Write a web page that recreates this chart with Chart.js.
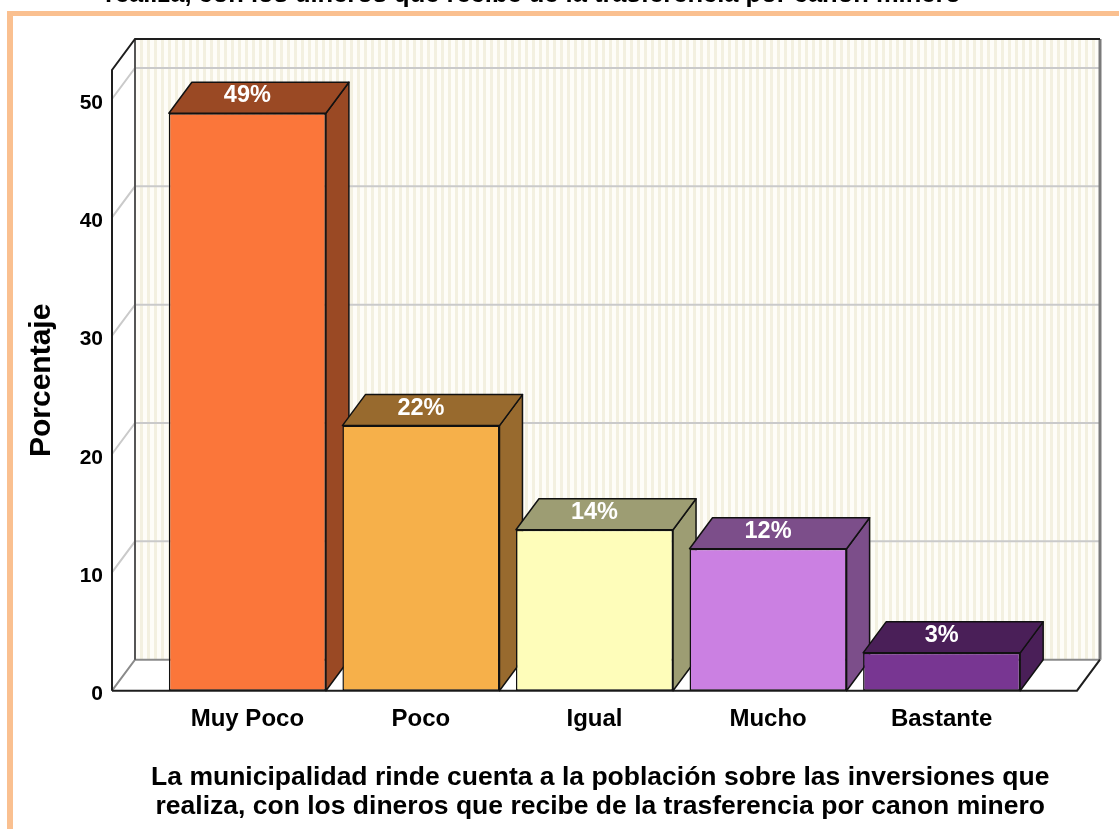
<!DOCTYPE html>
<html>
<head>
<meta charset="utf-8">
<script src="https://cdn.jsdelivr.net/npm/chart.js@4/dist/chart.umd.min.js"></script>
<style>
  html, body { margin: 0; padding: 0; background: #ffffff; }
  #wrap { position: relative; width: 1119px; height: 829px; overflow: hidden; background: #fff; }
  #c { position: absolute; left: 0; top: 0; }
  #frame { position: absolute; left: 7px; top: 11px; width: 1200px; height: 900px;
           border-left: 6px solid #FAC090; border-top: 5px solid #FAC090; pointer-events: none; }
  #cut { position: absolute; left: 105px; top: -20px; font: bold 25.5px "Liberation Sans", Arial, sans-serif;
         line-height: 26px; color: #000; white-space: nowrap; }
</style>
</head>
<body>
<div id="wrap">
  <canvas id="c" width="1119" height="829"></canvas>
  <div id="cut">realiza, con los dineros que recibe de la trasferencia por canon minero</div>
  <div id="frame"></div>
</div>
<script>
// ---- data ----
const categories = ['Muy Poco', 'Poco', 'Igual', 'Mucho', 'Bastante'];
const percentages = [48.8, 22.4, 13.6, 12.0, 3.2];
const valueLabels = ['49%', '22%', '14%', '12%', '3%'];
const yTickValues = [0, 10, 20, 30, 40, 50];
const xAxisTitle = ['La municipalidad rinde cuenta a la población sobre las inversiones que',
                    'realiza, con los dineros que recibe de la trasferencia por canon minero'];
const yAxisTitle = 'Porcentaje';
const frontColors = ['#FB763A', '#F6B04A', '#FEFDBA', '#CB80E2', '#783692'];
const shadeColors = ['#9A4924', '#986A2E', '#9D9D73', '#7C4E8A', '#4A1F58'];

// ---- style ----
const FONT = '"Liberation Sans", Arial, sans-serif';
const DEPTH = { dx: 23, dy: -31 };

function stripePattern(ctx) {
  const c = document.createElement('canvas');
  c.width = 7; c.height = 4;
  const g = c.getContext('2d');
  g.fillStyle = '#FEFDF8'; g.fillRect(0, 0, 7, 4);
  g.fillStyle = '#F3F0E0'; g.fillRect(0, 0, 3, 4);
  return ctx.createPattern(c, 'repeat');
}

const box3d = {
  id: 'box3d',
  afterLayout(chart) {
    // center the bottom title under the plot area, as in the original
    const t = chart.titleBlock;
    if (t) {
      t.left = chart.chartArea.left;
      t.right = chart.chartArea.right + DEPTH.dx / 2;
      t.width = t.right - t.left;
    }
  },
  beforeDatasetsDraw(chart) {
    const { ctx, chartArea: a, scales: { y } } = chart;
    const { dx, dy } = DEPTH;
    ctx.save();
    // back wall
    ctx.fillStyle = stripePattern(ctx);
    ctx.fillRect(a.left + dx, a.top + dy, a.right - a.left, a.bottom - a.top);
    // floor
    ctx.fillStyle = '#ffffff';
    ctx.beginPath();
    ctx.moveTo(a.left, a.bottom); ctx.lineTo(a.right, a.bottom);
    ctx.lineTo(a.right + dx, a.bottom + dy); ctx.lineTo(a.left + dx, a.bottom + dy);
    ctx.closePath(); ctx.fill();
    // grid lines (side wall + back wall)
    ctx.strokeStyle = '#CACACA'; ctx.lineWidth = 2;
    yTickValues.forEach(v => {
      if (v === 0) return;
      const py = y.getPixelForValue(v);
      ctx.beginPath();
      ctx.moveTo(a.left, py); ctx.lineTo(a.left + dx, py + dy); ctx.lineTo(a.right + dx, py + dy);
      ctx.stroke();
    });
    // floor back edges
    ctx.strokeStyle = '#8A8A8A'; ctx.lineWidth = 2;
    ctx.beginPath();
    ctx.moveTo(a.left, a.bottom); ctx.lineTo(a.left + dx, a.bottom + dy); ctx.lineTo(a.right + dx, a.bottom + dy);
    ctx.stroke();
    // back wall left & right edges
    ctx.strokeStyle = '#555555';
    ctx.beginPath();
    ctx.moveTo(a.left + dx, a.bottom + dy); ctx.lineTo(a.left + dx, a.top + dy);
    ctx.stroke();
    ctx.strokeStyle = '#7A7A7A'; ctx.lineWidth = 3;
    ctx.beginPath();
    ctx.moveTo(a.right + dx, a.top + dy); ctx.lineTo(a.right + dx, a.bottom + dy);
    ctx.stroke();
    // outer frame
    ctx.strokeStyle = '#1E1E1E'; ctx.lineWidth = 2;
    ctx.beginPath();
    ctx.moveTo(a.left, a.bottom); ctx.lineTo(a.left, a.top); ctx.lineTo(a.left + dx, a.top + dy);
    ctx.lineTo(a.right + dx, a.top + dy);
    ctx.stroke();
    ctx.beginPath();
    ctx.moveTo(a.left, a.bottom); ctx.lineTo(a.right, a.bottom); ctx.lineTo(a.right + dx, a.bottom + dy);
    ctx.stroke();
    // bar side & top faces (fronts drawn by Chart.js afterwards)
    const meta = chart.getDatasetMeta(0);
    ctx.lineWidth = 1.5; ctx.strokeStyle = '#111111'; ctx.lineJoin = 'round';
    meta.data.forEach((bar, i) => {
      const p = bar.getProps(['x', 'y', 'base', 'width'], true);
      const l = p.x - p.width / 2, r = p.x + p.width / 2;
      ctx.fillStyle = shadeColors[i];
      ctx.beginPath();
      ctx.moveTo(r, p.y); ctx.lineTo(r + dx, p.y + dy); ctx.lineTo(r + dx, p.base + dy); ctx.lineTo(r, p.base);
      ctx.closePath(); ctx.fill(); ctx.stroke();
      ctx.beginPath();
      ctx.moveTo(l, p.y); ctx.lineTo(l + dx, p.y + dy); ctx.lineTo(r + dx, p.y + dy); ctx.lineTo(r, p.y);
      ctx.closePath(); ctx.fill(); ctx.stroke();
    });
    ctx.restore();
  },
  afterDatasetsDraw(chart) {
    const { ctx } = chart;
    const { dy } = DEPTH;
    const meta = chart.getDatasetMeta(0);
    ctx.save();
    ctx.fillStyle = '#ffffff';
    ctx.font = 'bold 23.5px ' + FONT;
    ctx.textAlign = 'center'; ctx.textBaseline = 'middle';
    meta.data.forEach((bar, i) => {
      const p = bar.getProps(['x', 'y'], true);
      ctx.fillText(valueLabels[i], p.x, p.y + dy / 2 - 2);
    });
    ctx.restore();
  }
};

Chart.defaults.color = '#000';
Chart.defaults.font.family = FONT;

new Chart(document.getElementById('c'), {
  type: 'bar',
  data: {
    datasets: [{
      data: percentages.map((v, i) => ({ x: i, y: v })),
      backgroundColor: frontColors,
      borderColor: '#111111',
      borderWidth: 1.5,
      borderSkipped: false,
      barPercentage: 0.905,
      categoryPercentage: 1
    }]
  },
  options: {
    responsive: false,
    animation: false,
    layout: { padding: { left: 0, right: 42, top: 70, bottom: 0 } },
    plugins: {
      legend: { display: false },
      tooltip: { enabled: false },
      title: {
        display: true, position: 'bottom', text: xAxisTitle, color: '#000',
        font: { size: 26.5, weight: 'bold', lineHeight: 1.1 },
        padding: { top: 12, bottom: 8 }
      }
    },
    scales: {
      x: {
        type: 'linear', min: -0.78, max: 4.78, offset: false,
        afterBuildTicks: s => { s.ticks = categories.map((_, i) => ({ value: i })); },
        afterFit: s => { s.height = 60; },
        grid: { display: false, drawTicks: false, offset: false },
        border: { display: false },
        ticks: {
          autoSkip: false, maxRotation: 0, padding: 14, color: '#000',
          font: { size: 24, weight: 'bold' },
          callback: v => categories[v]
        }
      },
      y: {
        min: 0, max: 52.45,
        afterBuildTicks: s => { s.ticks = yTickValues.map(v => ({ value: v })); },
        afterFit: s => { s.width = 112; },
        grid: { display: false, drawTicks: false },
        border: { display: false },
        ticks: { padding: 9, labelOffset: 4, color: '#000', font: { size: 21, weight: 'bold' } },
        title: {
          display: true, text: yAxisTitle, color: '#000',
          font: { size: 30, weight: 'bold', lineHeight: 1.2 },
          padding: { top: 24, bottom: 0 }
        }
      }
    }
  },
  plugins: [box3d]
});
</script>
</body>
</html>
